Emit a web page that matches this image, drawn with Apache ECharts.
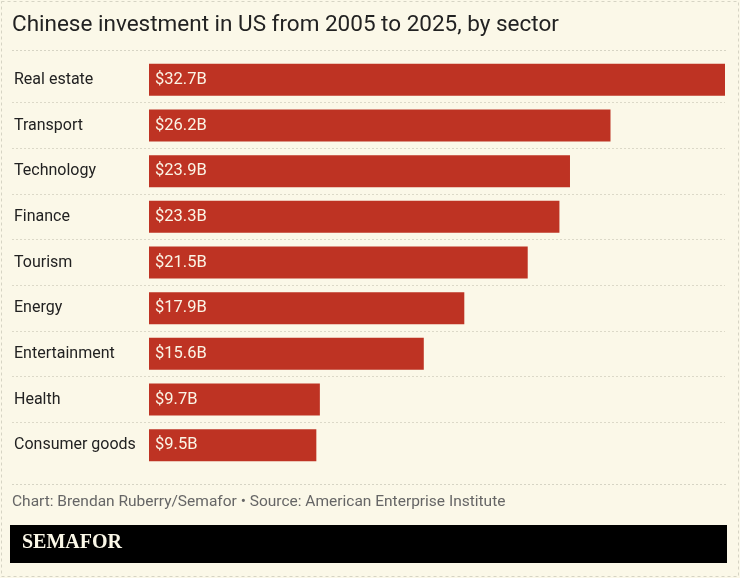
<!DOCTYPE html>
<html>
<head>
<meta charset="utf-8">
<script src="https://cdn.jsdelivr.net/npm/echarts@6/dist/echarts.min.js"></script>
<style>
  html, body { margin: 0; padding: 0; background: #fbf8e8; }
  #chart { width: 740px; height: 578px; }
</style>
</head>
<body>
<div id="chart"></div>
<script>
var sectors = ['Real estate', 'Transport', 'Technology', 'Finance', 'Tourism', 'Energy', 'Entertainment', 'Health', 'Consumer goods'];
var investment = [32.7, 26.2, 23.9, 23.3, 21.5, 17.9, 15.6, 9.7, 9.5];

var chart = echarts.init(document.getElementById('chart'));

// plot spans x 12..725, bars start at x 149, so axis min is pushed below zero
var plotLeft = 12, plotRight = 725, barStart = 149;
var maxVal = 32.7;
var minVal = -maxVal * (barStart - plotLeft) / (plotRight - barStart);

chart.setOption({
    backgroundColor: '#fbf8e8',
    animation: false,
    title: {
        text: 'Chinese investment in US from 2005 to 2025, by sector',
        left: 7,
        top: 9,
        textStyle: { fontFamily: 'Roboto', fontSize: 22.5, fontWeight: 'normal', color: '#222' }
    },
    grid: { left: plotLeft, right: 740 - plotRight, top: 57, bottom: 110 },
    xAxis: {
        type: 'value',
        min: minVal,
        max: maxVal,
        show: false
    },
    yAxis: {
        type: 'category',
        data: sectors,
        inverse: true,
        axisLine: { show: false },
        axisTick: { show: false },
        axisLabel: {
            inside: true,
            margin: 2,
            fontFamily: 'Roboto',
            fontSize: 16,
            color: '#222'
        },
        splitLine: {
            show: true,
            showMinLine: false,
            showMaxLine: false,
            lineStyle: { color: '#dcd9c8', type: [2, 2], width: 1 }
        }
    },
    series: [{
        type: 'bar',
        data: investment,
        barWidth: 32,
        itemStyle: { color: '#be3323' },
        label: {
            show: true,
            position: 'insideLeft',
            distance: 6,
            formatter: function (p) { return '$' + p.value + 'B'; },
            fontFamily: 'Roboto',
            fontSize: 16.5,
            color: '#fbf5e6'
        }
    }],
    graphic: [
        { type: 'rect', shape: { x: 1.5, y: 1.5, width: 737, height: 575 }, style: { fill: null, stroke: '#d6d4c4', lineDash: [3, 3], lineWidth: 1 } },
        { type: 'line', shape: { x1: 12, y1: 50.5, x2: 727, y2: 50.5 }, style: { stroke: '#d6d4c4', lineDash: [2, 2], lineWidth: 1 } },
        { type: 'line', shape: { x1: 12, y1: 484.5, x2: 727, y2: 484.5 }, style: { stroke: '#d6d4c4', lineDash: [2, 2], lineWidth: 1 } },
        {
            type: 'text', left: 12, top: 494,
            style: { text: 'Chart: Brendan Ruberry/Semafor \u2022 Source: American Enterprise Institute', fontFamily: 'Roboto', fontSize: 15.5, fill: '#666' }
        },
        { type: 'rect', shape: { x: 10, y: 525, width: 717, height: 38 }, style: { fill: '#000' } },
        {
            type: 'text', left: 22, top: 533,
            style: { text: 'SEMAFOR', fontFamily: 'Liberation Serif', fontWeight: 'bold', fontSize: 20, fill: '#fbf8e8' }
        }
    ]
});
</script>
</body>
</html>
